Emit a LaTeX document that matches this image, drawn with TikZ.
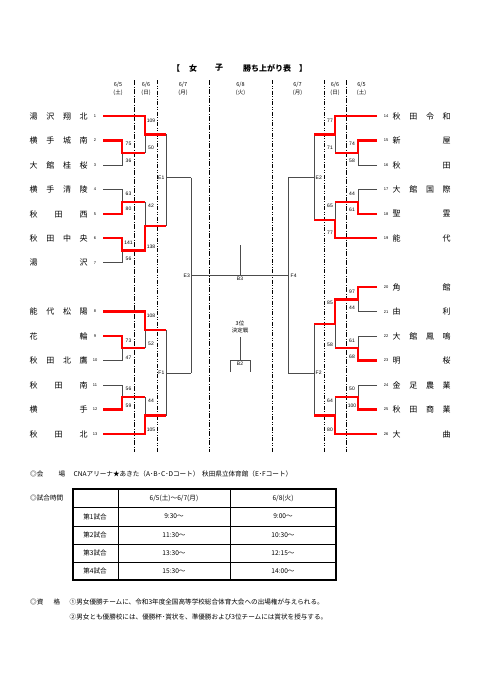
\documentclass[tikz,border=0pt]{standalone}
\usepackage{fontspec}
\setmainfont{Liberation Sans}
\newfontfamily\jp{Noto Sans CJK JP}
\tikzset{
  win/.style={draw=red, line width=2.3pt},
  lose/.style={draw=black!70, line width=0.9pt},
  dlineA/.style={draw=black, line width=0.8pt, dash pattern=on 5pt off 1.5pt on 1pt off 1.5pt},
  dlineB/.style={draw=black, line width=0.8pt, dash pattern=on 4pt off 1.5pt on 1pt off 1.5pt on 1pt off 1.5pt},
  tname/.style={inner sep=0pt, font=\jp\fontsize{8}{8}\selectfont},
  tnum/.style={inner sep=0pt, font=\fontsize{4}{4}\selectfont},
  score/.style={inner sep=0pt, font=\fontsize{5}{5}\selectfont},
  glabel/.style={inner sep=0pt, font=\fontsize{5}{5}\selectfont},
  dhead/.style={inner sep=0pt, font=\jp\fontsize{5.5}{5.5}\selectfont},
  ttl/.style={inner sep=0pt, font=\jp\bfseries\fontsize{8}{8}\selectfont},
  btxt/.style={inner sep=0pt, font=\jp\fontsize{6.6}{6.6}\selectfont},
  ctxt/.style={inner sep=0pt, font=\jp\fontsize{6.6}{6.6}\selectfont},
}
\newcommand{\lteam}[3]{%
  \node[tname, anchor=west] (lt#2) at (29.5,#1) {\makebox[58pt][s]{#3}};
  \node[tnum] (ln#2) at (95,#1) {#2};}
\newcommand{\rteam}[3]{%
  \node[tname, anchor=west] (rt#2) at (392.5,#1) {\makebox[58pt][s]{#3}};
  \node[tnum] (rn#2) at (386,#1) {#2};}
\newcommand{\scr}[3]{\node[score] at (#1,#2) {#3};}
\begin{document}
\begin{tikzpicture}[x=1pt,y=-1pt]
\useasboundingbox[fill=white] (0,0) rectangle (481,680);
% title
\node[ttl] (t1) at (176,68) {【};
\node[ttl] (t2) at (193,68) {女};
\node[ttl] (t3) at (219,68) {子};
\node[ttl] (t4) at (267,68) {勝ち上がり表};
\node[ttl] (t5) at (303,68) {】};
% date headers
\foreach \x/\d/\w in {118/6\slash5/土,146/6\slash6/日,183/6\slash7/月,240.5/6\slash8/火,297.5/6\slash7/月,335/6\slash6/日,361.5/6\slash5/土}{
  \node[dhead] at (\x,84.5) {\d};
  \node[dhead] at (\x,93) {(\w)};
}
% dashed day separators
\draw[dlineA] (134,80) -- (134,452);
\draw[dlineB] (157,80) -- (157,452);
\draw[dlineA] (209,80) -- (209,452);
\draw[dlineB] (272,80) -- (272,452);
\draw[dlineB] (324,80) -- (324,452);
\draw[dlineA] (346,80) -- (346,452);
% teams left
\lteam{116}{1}{湯\hfill{}沢\hfill{}翔\hfill{}北}
\lteam{140.5}{2}{横\hfill{}手\hfill{}城\hfill{}南}
\lteam{165}{3}{大\hfill{}館\hfill{}桂\hfill{}桜}
\lteam{189.5}{4}{横\hfill{}手\hfill{}清\hfill{}陵}
\lteam{214}{5}{秋\hfill{}田\hfill{}西}
\lteam{238.3}{6}{秋\hfill{}田\hfill{}中\hfill{}央}
\lteam{262.7}{7}{湯\hfill{}沢}
\lteam{311.6}{8}{能\hfill{}代\hfill{}松\hfill{}陽}
\lteam{336}{9}{花\hfill{}輪}
\lteam{360.5}{10}{秋\hfill{}田\hfill{}北\hfill{}鷹}
\lteam{385}{11}{秋\hfill{}田\hfill{}南}
\lteam{409.4}{12}{横\hfill{}手}
\lteam{434}{13}{秋\hfill{}田\hfill{}北}
% teams right
\rteam{116}{14}{秋\hfill{}田\hfill{}令\hfill{}和}
\rteam{140.5}{15}{新\hfill{}屋}
\rteam{165}{16}{秋\hfill{}田}
\rteam{189.5}{17}{大\hfill{}館\hfill{}国\hfill{}際}
\rteam{214}{18}{聖\hfill{}霊}
\rteam{238.3}{19}{能\hfill{}代}
\rteam{287.2}{20}{角\hfill{}館}
\rteam{311.6}{21}{由\hfill{}利}
\rteam{336}{22}{大\hfill{}館\hfill{}鳳\hfill{}鳴}
\rteam{360.5}{23}{明\hfill{}桜}
\rteam{385}{24}{金\hfill{}足\hfill{}農\hfill{}業}
\rteam{409.4}{25}{秋\hfill{}田\hfill{}商\hfill{}業}
\rteam{434}{26}{大\hfill{}曲}
% ---- left bracket, losing lines
\draw[lose] (145,134.4) -- (145,152.75);
\draw[lose] (103,165) -| (122,152.75);
\draw[lose] (103,189.5) -| (122,201.75);
\draw[lose] (145,201.75) -- (145,226.1);
\draw[lose] (103,262.7) -| (122,250.5);
\draw[lose] (166,134.4) -- (166,226.1);
\draw[lose] (166,177.5) -- (191,177.5);
\draw[lose] (145,329.9) -- (145,348.25);
\draw[lose] (103,360.5) -| (122,348.25);
\draw[lose] (103,385) -| (122,397.2);
\draw[lose] (145,397.2) -- (145,415.6);
\draw[lose] (166,329.9) -- (166,415.6);
\draw[lose] (166,373) -- (191,373);
\draw[lose] (191,177.5) -- (191,373);
% ---- right bracket, losing lines
\draw[lose] (335,134.4) -- (335,152.75);
\draw[lose] (377,165) -| (358,152.75);
\draw[lose] (377,189.5) -| (358,201.75);
\draw[lose] (335,201.75) -- (335,220);
\draw[lose] (314,134.4) -- (314,220);
\draw[lose] (314,177.5) -- (288,177.5);
\draw[lose] (377,311.6) -| (358,299.4);
\draw[lose] (377,336) -| (358,348.25);
\draw[lose] (335,348.25) -- (335,323.8);
\draw[lose] (377,385) -| (358,397.2);
\draw[lose] (335,397.2) -- (335,415.6);
\draw[lose] (314,323.8) -- (314,415.6);
\draw[lose] (314,373) -- (288,373);
\draw[lose] (288,177.5) -- (288,373);
% final and 3rd place
\draw[lose] (191,275.5) -- (288,275.5);
\draw[lose] (240,245) -- (240,275.5);
\draw[lose] (240,337) -- (240,360) (230,372) |- (250,360) -- (250,372);
% ---- winning (red) lines left
\draw[win] (103,116) -| (145,134.4) -- (166,134.4);
\draw[win] (103,140.5) -| (122,152.75) -- (145,152.75);
\draw[win] (103,214) -| (122,201.75) -- (145,201.75);
\draw[win] (103,238.3) -| (122,250.5) -- (145,250.5) -- (145,226.1) -- (166,226.1);
\draw[win] (103,311.6) -| (145,329.9) -- (166,329.9);
\draw[win] (103,336) -| (122,348.25) -- (145,348.25);
\draw[win] (103,409.4) -| (122,397.2) -- (145,397.2);
\draw[win] (103,434) -| (145,415.6) -- (166,415.6);
% ---- winning (red) lines right
\draw[win] (377,116) -| (335,134.4) -- (314,134.4);
\draw[win] (377,140.5) -| (358,152.75) -- (335,152.75);
\draw[win] (377,214) -| (358,201.75) -- (335,201.75);
\draw[win] (377,238.3) -| (335,220) -- (314,220);
\draw[win] (377,287.2) -| (358,299.4) -- (335,299.4) -- (335,323.8) -- (314,323.8);
\draw[win] (377,360.5) -| (358,348.25) -- (335,348.25);
\draw[win] (377,409.4) -| (358,397.2) -- (335,397.2);
\draw[win] (377,434) -| (335,415.6) -- (314,415.6);
% scores left
\scr{128.5}{144}{75}\scr{128.5}{161}{36}\scr{128.5}{194}{63}\scr{128.5}{209}{80}
\scr{128.5}{243}{141}\scr{128.5}{259}{56}\scr{128.5}{341}{73}\scr{128.5}{358}{47}
\scr{128.5}{389}{56}\scr{128.5}{406}{59}
\scr{151}{121}{109}\scr{151}{148}{50}\scr{151}{206}{42}\scr{151}{247}{138}
\scr{151}{316}{108}\scr{151}{344}{52}\scr{151}{401}{44}\scr{151}{430}{105}
% scores right
\scr{352}{144}{74}\scr{352}{161}{58}\scr{352}{194}{44}\scr{352}{210}{61}
\scr{352}{292}{97}\scr{352}{308}{44}\scr{352}{341}{61}\scr{352}{357}{68}
\scr{352}{389}{50}\scr{352}{406}{100}
\scr{330}{121}{77}\scr{330}{148}{71}\scr{330}{206}{65}\scr{330}{233}{77}
\scr{330}{303}{85}\scr{330}{345}{58}\scr{330}{401}{64}\scr{330}{430}{80}
% game labels
\node[glabel, anchor=east] (E1) at (164.5,177.5) {E1};
\node[glabel, anchor=east] (F1) at (164.5,373) {F1};
\node[glabel, anchor=west] (E2) at (315.5,177.5) {E2};
\node[glabel, anchor=west] (F2) at (315.5,373) {F2};
\node[glabel, anchor=east] (E3) at (190,275.5) {E3};
\node[glabel, anchor=west] (F4) at (290.5,275.5) {F4};
\node[glabel, anchor=north] (B3) at (240,277) {B3};
\node[glabel] (B2) at (240,364) {B2};
\node[dhead] (p3) at (240,323) {3位};
\node[dhead] (p3b) at (240,330.5) {決定戦};
% bottom info
\node[btxt, anchor=west] at (30,474) {◎会};
\node[btxt] at (62,474) {場};
\node[btxt, anchor=west] at (73.5,474) {CNAアリーナ★あきた（A･B･C･Dコート）};
\node[btxt, anchor=west] at (202,474) {秋田県立体育館（E･Fコート）};
\node[btxt, anchor=west] at (30,498) {◎試合時間};
% table
\draw[black, line width=0.5pt] (118,489) -- (118,580) (230,489) -- (230,580)
  (73,507) -- (336,507) (73,526) -- (336,526) (73,544) -- (336,544) (73,562) -- (336,562);
\draw[black, line width=1.1pt] (73,489) rectangle (336,580);
\node[ctxt] at (174,498) {6/5(土)～6/7(月)};
\node[ctxt] at (283,498) {6/8(火)};
\foreach \y/\n/\a/\b in {516.5/1/9:30～/9:00～,535/2/11:30～/10:30～,553/3/13:30～/12:15～,571/4/15:30～/14:00～}{
  \node[ctxt] at (95,\y) {第\n 試合};
  \node[ctxt] at (174,\y) {\a};
  \node[ctxt] at (283,\y) {\b};
}
\node[btxt, anchor=west] at (30,602) {◎資};
\node[btxt] at (57,602) {格};
\node[btxt, anchor=west] at (69.5,602) {①男女優勝チームに、令和3年度全国高等学校総合体育大会への出場権が与えられる。};
\node[btxt, anchor=west] at (69.5,617) {②男女とも優勝校には、優勝杯･賞状を、準優勝および3位チームには賞状を授与する。};
\end{tikzpicture}
\end{document}
